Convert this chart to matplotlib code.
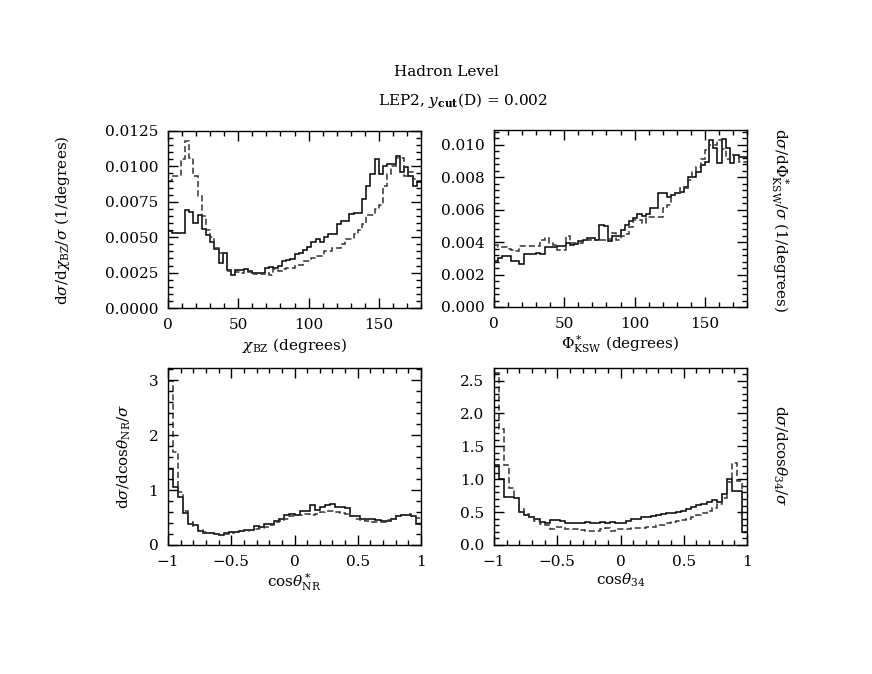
import numpy as np
import matplotlib
matplotlib.use("Agg")
import matplotlib.pyplot as plt
from matplotlib.ticker import MultipleLocator, FuncFormatter

plt.rcParams['font.family'] = ['DejaVu Serif']
plt.rcParams['mathtext.fontset'] = 'dejavuserif'
plt.rcParams['font.size'] = 11

# chi_BZ, 60 bins of 3 degrees (values in 1e-3 / degree)
chi_bz_edges = np.linspace(0, 180, 61)
chi_bz_solid = np.array([
    5.45, 5.3, 5.3, 5.3, 6.9, 6.75, 6.0, 6.56, 5.6, 5.15,
    4.65, 4.2, 3.15, 3.85, 2.66, 2.3, 2.66, 2.66, 2.78, 2.61,
    2.47, 2.47, 2.47, 2.82, 2.9, 2.8, 3.0, 3.3, 3.37, 3.49,
    3.8, 3.89, 4.08, 4.31, 4.67, 4.9, 4.67, 5.02, 5.2, 5.2,
    5.9, 6.14, 6.14, 6.66, 6.7, 6.7, 7.68, 8.62, 9.45, 10.5,
    9.45, 10.04, 10.2, 10.2, 10.75, 9.57, 9.93, 9.33, 8.62, 8.93]) * 1e-3
chi_bz_dashed = np.array([
    8.96, 9.3, 9.3, 10.5, 11.8, 10.6, 9.3, 7.9, 6.5, 5.5,
    5.0, 4.25, 3.9, 3.2, 2.6, 2.45, 2.55, 2.5, 2.65, 2.55,
    2.4, 2.45, 2.4, 2.45, 2.3, 2.75, 2.6, 2.75, 2.84, 2.84,
    3.07, 3.07, 3.3, 3.3, 3.5, 3.66, 3.66, 4.0, 4.0, 4.25,
    4.25, 4.5, 4.84, 4.84, 5.2, 5.5, 5.9, 6.6, 6.6, 6.96,
    7.3, 8.62, 9.45, 10.0, 10.6, 10.6, 9.3, 9.6, 9.1, 9.0]) * 1e-3

# Phi*_KSW, 60 bins of 3 degrees
phi_ksw_edges = np.linspace(0, 180, 61)
phi_ksw_solid = np.array([
    2.82, 3.02, 3.12, 3.12, 2.82, 2.82, 2.65, 3.27, 3.27, 3.27,
    3.33, 3.25, 3.67, 3.67, 3.67, 3.73, 3.73, 3.94, 3.8, 3.9,
    4.04, 4.14, 4.24, 4.24, 4.14, 5.06, 4.96, 4.04, 4.35, 4.35,
    4.76, 5.06, 5.27, 5.47, 5.71, 5.6, 5.7, 6.08, 6.08, 7.0,
    7.0, 6.8, 6.9, 7.0, 7.1, 7.4, 8.02, 8.02, 8.33, 8.73,
    8.94, 10.27, 9.8, 8.84, 10.37, 9.8, 8.84, 9.35, 9.24, 9.24]) * 1e-3
phi_ksw_dashed = np.array([
    3.84, 3.67, 3.67, 3.6, 3.53, 3.43, 3.73, 3.73, 3.73, 3.73,
    3.73, 4.14, 4.24, 3.94, 3.84, 3.53, 3.5, 4.35, 3.94, 3.94,
    3.94, 4.14, 4.14, 4.24, 4.14, 4.1, 4.14, 4.2, 4.55, 4.14,
    4.35, 4.5, 4.9, 5.37, 5.37, 5.2, 5.57, 5.57, 5.57, 5.57,
    6.08, 6.3, 6.9, 7.0, 7.3, 7.3, 7.8, 8.33, 8.63, 9.14,
    9.65, 9.96, 9.96, 10.3, 9.75, 9.14, 9.35, 9.2, 8.94, 8.94]) * 1e-3

# cos theta*_NR, 50 bins
cos_nr_edges = np.linspace(-1, 1, 51)
cos_nr_solid = np.array([
    1.39, 1.06, 0.88, 0.58, 0.39, 0.36, 0.26, 0.22, 0.21, 0.20,
    0.19, 0.21, 0.23, 0.24, 0.26, 0.27, 0.28, 0.35, 0.33, 0.38,
    0.39, 0.44, 0.48, 0.55, 0.56, 0.55, 0.62, 0.62, 0.72, 0.64,
    0.70, 0.72, 0.75, 0.70, 0.70, 0.68, 0.52, 0.52, 0.48, 0.47,
    0.47, 0.45, 0.44, 0.44, 0.47, 0.52, 0.55, 0.55, 0.53, 0.39])
cos_nr_dashed = np.array([
    2.99, 1.70, 0.97, 0.62, 0.42, 0.35, 0.28, 0.23, 0.21, 0.20,
    0.19, 0.20, 0.22, 0.23, 0.25, 0.26, 0.27, 0.29, 0.31, 0.33,
    0.36, 0.41, 0.44, 0.48, 0.53, 0.55, 0.55, 0.57, 0.55, 0.57,
    0.60, 0.62, 0.61, 0.60, 0.58, 0.57, 0.52, 0.47, 0.45, 0.44,
    0.42, 0.42, 0.42, 0.45, 0.48, 0.52, 0.55, 0.56, 0.53, 0.50])

# cos theta_34, 50 bins
cos_34_edges = np.linspace(-1, 1, 51)
cos_34_solid = np.array([
    1.21, 1.01, 0.73, 0.73, 0.72, 0.50, 0.45, 0.43, 0.40, 0.35,
    0.33, 0.38, 0.38, 0.37, 0.34, 0.33, 0.34, 0.34, 0.35, 0.33,
    0.34, 0.35, 0.33, 0.35, 0.33, 0.34, 0.37, 0.39, 0.40, 0.42,
    0.43, 0.44, 0.45, 0.47, 0.48, 0.49, 0.50, 0.52, 0.54, 0.58,
    0.61, 0.63, 0.66, 0.69, 0.66, 0.78, 1.0, 0.82, 0.82, 0.2])
cos_34_dashed = np.array([
    2.61, 1.77, 1.21, 0.86, 0.72, 0.55, 0.47, 0.42, 0.36, 0.32,
    0.30, 0.25, 0.27, 0.27, 0.25, 0.25, 0.24, 0.23, 0.22, 0.22,
    0.22, 0.24, 0.26, 0.21, 0.24, 0.24, 0.25, 0.26, 0.26, 0.26,
    0.27, 0.28, 0.30, 0.31, 0.33, 0.35, 0.37, 0.38, 0.40, 0.42,
    0.45, 0.48, 0.52, 0.56, 0.62, 0.72, 0.95, 1.24, 0.98, 0.2])

W, H = 872, 674
fig = plt.figure(figsize=(W / 100, H / 100), dpi=100)


def px_axes(x0, y0, x1, y1):
    return fig.add_axes([x0 / W, 1 - y1 / H, (x1 - x0) / W, (y1 - y0) / H])


def style(ax, xmaj, xmin, ymaj, ymin):
    ax.xaxis.set_major_locator(MultipleLocator(xmaj))
    ax.xaxis.set_minor_locator(MultipleLocator(xmin))
    ax.yaxis.set_major_locator(MultipleLocator(ymaj))
    ax.yaxis.set_minor_locator(MultipleLocator(ymin))
    ax.tick_params(which='both', direction='in', top=True, right=True, width=1.0)
    ax.tick_params(which='major', length=7.5, pad=7)
    ax.tick_params(which='minor', length=3.8)
    for s in ax.spines.values():
        s.set_linewidth(1.0)


def draw(ax, edges, solid, dashed):
    ax.stairs(solid, edges, baseline=None, color='black', lw=1.1)
    ax.stairs(dashed, edges, baseline=None, color='#333333', lw=1.1,
              linestyle=(0, (4, 2)))


def minus_fmt(v, pos):
    if abs(v) < 1e-9:
        return '0'
    s = ('%g' % v)
    return s.replace('-', '\u2212')


# top left
ax1 = px_axes(168, 131, 421, 308)
draw(ax1, chi_bz_edges, chi_bz_solid, chi_bz_dashed)
ax1.set_xlim(0, 180)
ax1.set_ylim(0, 0.0125)
style(ax1, 50, 10, 0.0025, 0.0005)
ax1.yaxis.set_major_formatter(FuncFormatter(lambda v, p: '%.4f' % v))
ax1.set_xlabel(r'$\chi_{\rm BZ}$ (degrees)', labelpad=3)

# top right
ax2 = px_axes(494, 130, 747, 307)
draw(ax2, phi_ksw_edges, phi_ksw_solid, phi_ksw_dashed)
ax2.set_xlim(0, 180)
ax2.set_ylim(0, 0.0109)
style(ax2, 50, 10, 0.002, 0.0004)
ax2.yaxis.set_major_formatter(FuncFormatter(lambda v, p: '%.3f' % v))
ax2.set_xlabel(r'$\Phi^*_{\rm KSW}$ (degrees)', labelpad=2)

# bottom left
ax3 = px_axes(168, 368, 421, 545)
draw(ax3, cos_nr_edges, cos_nr_solid, cos_nr_dashed)
ax3.set_xlim(-1, 1)
ax3.set_ylim(0, 3.22)
style(ax3, 0.5, 0.1, 1, 0.2)
ax3.xaxis.set_major_formatter(FuncFormatter(minus_fmt))
ax3.yaxis.set_major_formatter(FuncFormatter(minus_fmt))
ax3.set_xlabel(r'cos$\theta^*_{\rm NR}$', labelpad=2)

# bottom right
ax4 = px_axes(494, 368, 747, 545)
draw(ax4, cos_34_edges, cos_34_solid, cos_34_dashed)
ax4.set_xlim(-1, 1)
ax4.set_ylim(0, 2.69)
style(ax4, 0.5, 0.1, 0.5, 0.1)
ax4.xaxis.set_major_formatter(FuncFormatter(minus_fmt))
ax4.yaxis.set_major_formatter(FuncFormatter(lambda v, p: '%.1f' % v))
ax4.set_xlabel(r'cos$\theta_{\rm 34}$', labelpad=2)

# y labels
fig.text(62 / W, 1 - 220 / H, r'd$\sigma$/d$\chi_{\rm BZ}$/$\sigma$ (1/degrees)',
         rotation=90, ha='center', va='center')
fig.text(780 / W, 1 - 220 / H, r'd$\sigma$/d$\Phi^*_{\rm KSW}$/$\sigma$ (1/degrees)',
         rotation=270, ha='center', va='center')
fig.text(124 / W, 1 - 456 / H, r'd$\sigma$/dcos$\theta_{\rm NR}$/$\sigma$',
         rotation=90, ha='center', va='center')
fig.text(780 / W, 1 - 456 / H, r'd$\sigma$/dcos$\theta_{\rm 34}$/$\sigma$',
         rotation=270, ha='center', va='center')

# titles
fig.text(446 / W, 1 - 72 / H, 'Hadron Level', ha='center', va='center')
fig.text(463 / W, 1 - 100 / H, r'LEP2, $y_{\mathbf{cut}}$(D) = 0.002',
         ha='center', va='center')

fig.savefig('out.png', dpi=100)
